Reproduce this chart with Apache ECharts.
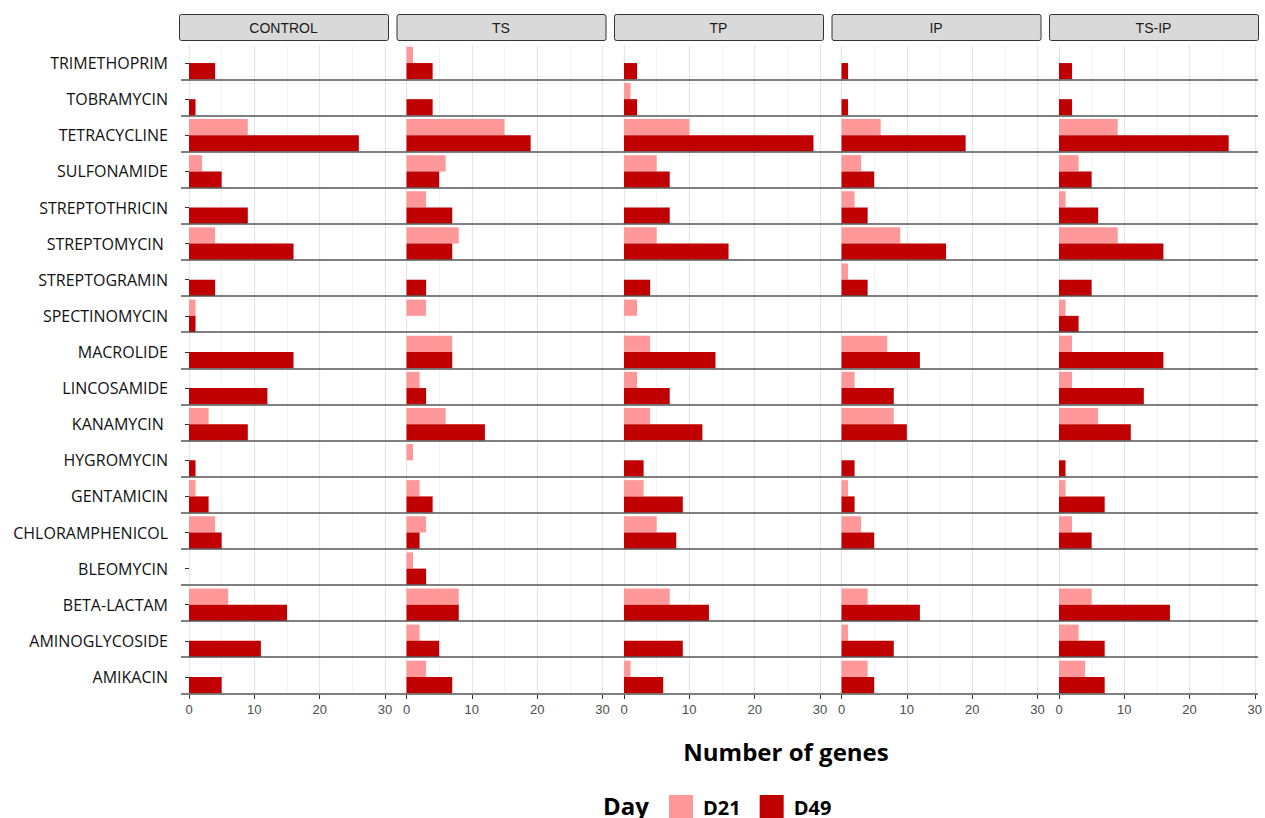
<!DOCTYPE html>
<html>
<head>
<meta charset="utf-8">
<script src="https://cdn.jsdelivr.net/npm/echarts@6/dist/echarts.min.js"></script>
<style>
  html, body { margin: 0; padding: 0; background: #ffffff; }
  #chart { width: 1265px; height: 818px; }
</style>
</head>
<body>
<div id="chart"></div>
<script>
// Antibiotic classes (top to bottom)
const categories = [
  'TRIMETHOPRIM', 'TOBRAMYCIN', 'TETRACYCLINE', 'SULFONAMIDE', 'STREPTOTHRICIN',
  'STREPTOMYCIN ', 'STREPTOGRAMIN', 'SPECTINOMYCIN', 'MACROLIDE', 'LINCOSAMIDE',
  'KANAMYCIN ', 'HYGROMYCIN', 'GENTAMICIN', 'CHLORAMPHENICOL', 'BLEOMYCIN',
  'BETA-LACTAM', 'AMINOGLYCOSIDE', 'AMIKACIN'
];

// Treatment panels
const treatments = ['CONTROL', 'TS', 'TP', 'IP', 'TS-IP'];
const days = ['D21', 'D49'];

// Number of genes per class, one array per treatment and day
const controlD21 = [0, 0, 9, 2, 0, 4, 0, 1, 0, 0, 3, 0, 1, 4, 0, 6, 0, 0];
const controlD49 = [4, 1, 26, 5, 9, 16, 4, 1, 16, 12, 9, 1, 3, 5, 0, 15, 11, 5];
const tsD21 = [1, 0, 15, 6, 3, 8, 0, 3, 7, 2, 6, 1, 2, 3, 1, 8, 2, 3];
const tsD49 = [4, 4, 19, 5, 7, 7, 3, 0, 7, 3, 12, 0, 4, 2, 3, 8, 5, 7];
const tpD21 = [0, 1, 10, 5, 0, 5, 0, 2, 4, 2, 4, 0, 3, 5, 0, 7, 0, 1];
const tpD49 = [2, 2, 29, 7, 7, 16, 4, 0, 14, 7, 12, 3, 9, 8, 0, 13, 9, 6];
const ipD21 = [0, 0, 6, 3, 2, 9, 1, 0, 7, 2, 8, 0, 1, 3, 0, 4, 1, 4];
const ipD49 = [1, 1, 19, 5, 4, 16, 4, 0, 12, 8, 10, 2, 2, 5, 0, 12, 8, 5];
const tsipD21 = [0, 0, 9, 3, 1, 9, 0, 1, 2, 2, 6, 0, 1, 2, 0, 5, 3, 4];
const tsipD49 = [2, 2, 26, 5, 6, 16, 5, 3, 16, 13, 11, 1, 7, 5, 0, 17, 7, 7];

const panelData = [
  [controlD21, controlD49],
  [tsD21, tsD49],
  [tpD21, tpD49],
  [ipD21, ipD49],
  [tsipD21, tsipD49]
];

// x-axis scale
const xMin = 0, xMax = 30, xStep = 10;

const dayColors = { D21: '#ff9999', D49: '#c00000' };

// panel geometry
const panelPitch = 217.5;
const stripLeft0 = 179, stripWidth = 209;
const plotLeft0 = 189, plotWidth = 196;
const plotTop = 45, plotHeight = 650;
const rowStep = plotHeight / categories.length;

const grids = [], xAxes = [], yAxes = [], series = [], graphics = [];

treatments.forEach((name, k) => {
  grids.push({ left: plotLeft0 + k * panelPitch, top: plotTop, width: plotWidth, height: plotHeight });
  xAxes.push({
    type: 'value', gridIndex: k, min: xMin, max: xMax, interval: xStep,
    axisLine: { show: false },
    axisTick: { show: true, length: 4, lineStyle: { color: '#333333', width: 1 } },
    axisLabel: { color: '#4d4d4d', fontSize: 13, fontFamily: 'Liberation Sans', margin: 8 },
    splitLine: { show: true, lineStyle: { color: '#e6e6e6', width: 1.2 } },
    minorTick: { show: false, splitNumber: 2 },
    minorSplitLine: { show: true, lineStyle: { color: '#f3f3f3', width: 1 } }
  });
  yAxes.push({
    type: 'category', gridIndex: k, data: categories, inverse: true,
    offset: k === 0 ? 8 : 0,
    axisLine: { show: false },
    axisTick: { show: k === 0, alignWithLabel: true, length: 4, interval: 0, lineStyle: { color: '#333333' } },
    axisLabel: { show: k === 0, interval: 0, color: '#111111', fontSize: 16, fontFamily: 'Open Sans', margin: 13 },
    splitLine: { show: false }
  });
  days.forEach((day, d) => {
    series.push({
      type: 'bar', name: day, xAxisIndex: k, yAxisIndex: k,
      data: panelData[k][d],
      barGap: '0%', barCategoryGap: '10%',
      itemStyle: { color: dayColors[day] },
      emphasis: { disabled: true },
      silent: true
    });
  });

  // facet strip
  graphics.push({
    type: 'rect',
    shape: { x: stripLeft0 + k * panelPitch + 0.5, y: 14.5, width: stripWidth, height: 26, r: 2 },
    style: { fill: '#d9d9d9', stroke: '#333333', lineWidth: 1 }
  });
  graphics.push({
    type: 'text',
    x: stripLeft0 + k * panelPitch + stripWidth / 2, y: 27.5,
    style: { text: name, fill: '#1a1a1a', font: '14px "Liberation Sans"', textAlign: 'center', textVerticalAlign: 'middle' }
  });
});

// row separators running across all panels
const sepIndex = treatments.length;
grids.push({ left: 181, right: 7, top: plotTop + rowStep - 1.7, height: plotHeight - rowStep });
xAxes.push({ type: 'value', gridIndex: sepIndex, min: 0, max: 1, show: false });
yAxes.push({
  type: 'value', gridIndex: sepIndex, min: 0, max: categories.length - 1, interval: 1, inverse: true, z: 5,
  axisLine: { show: false }, axisTick: { show: false }, axisLabel: { show: false },
  splitLine: { show: true, lineStyle: { color: '#555555', width: 1.5 } }
});

// axis title and legend title
graphics.push({
  type: 'text', x: 786, y: 751,
  style: { text: 'Number of genes', fill: '#000000', font: 'bold 24px "Open Sans"', textAlign: 'center', textVerticalAlign: 'middle' }
});
graphics.push({
  type: 'text', x: 603, y: 805,
  style: { text: 'Day', fill: '#000000', font: 'bold 24px "Open Sans"', textAlign: 'left', textVerticalAlign: 'middle' }
});

const chart = echarts.init(document.getElementById('chart'), null, { renderer: 'svg' });
chart.setOption({
  animation: false,
  backgroundColor: '#ffffff',
  grid: grids,
  xAxis: xAxes,
  yAxis: yAxes,
  legend: {
    data: days,
    left: 669, top: 795, padding: 0,
    itemWidth: 24, itemHeight: 24, itemGap: 19,
    icon: 'rect',
    textStyle: { color: '#000000', fontSize: 20, fontWeight: 'bold', fontFamily: 'Open Sans', padding: [0, 0, 0, 5] },
    selectedMode: false
  },
  series: series,
  graphic: graphics
});
</script>
</body>
</html>
